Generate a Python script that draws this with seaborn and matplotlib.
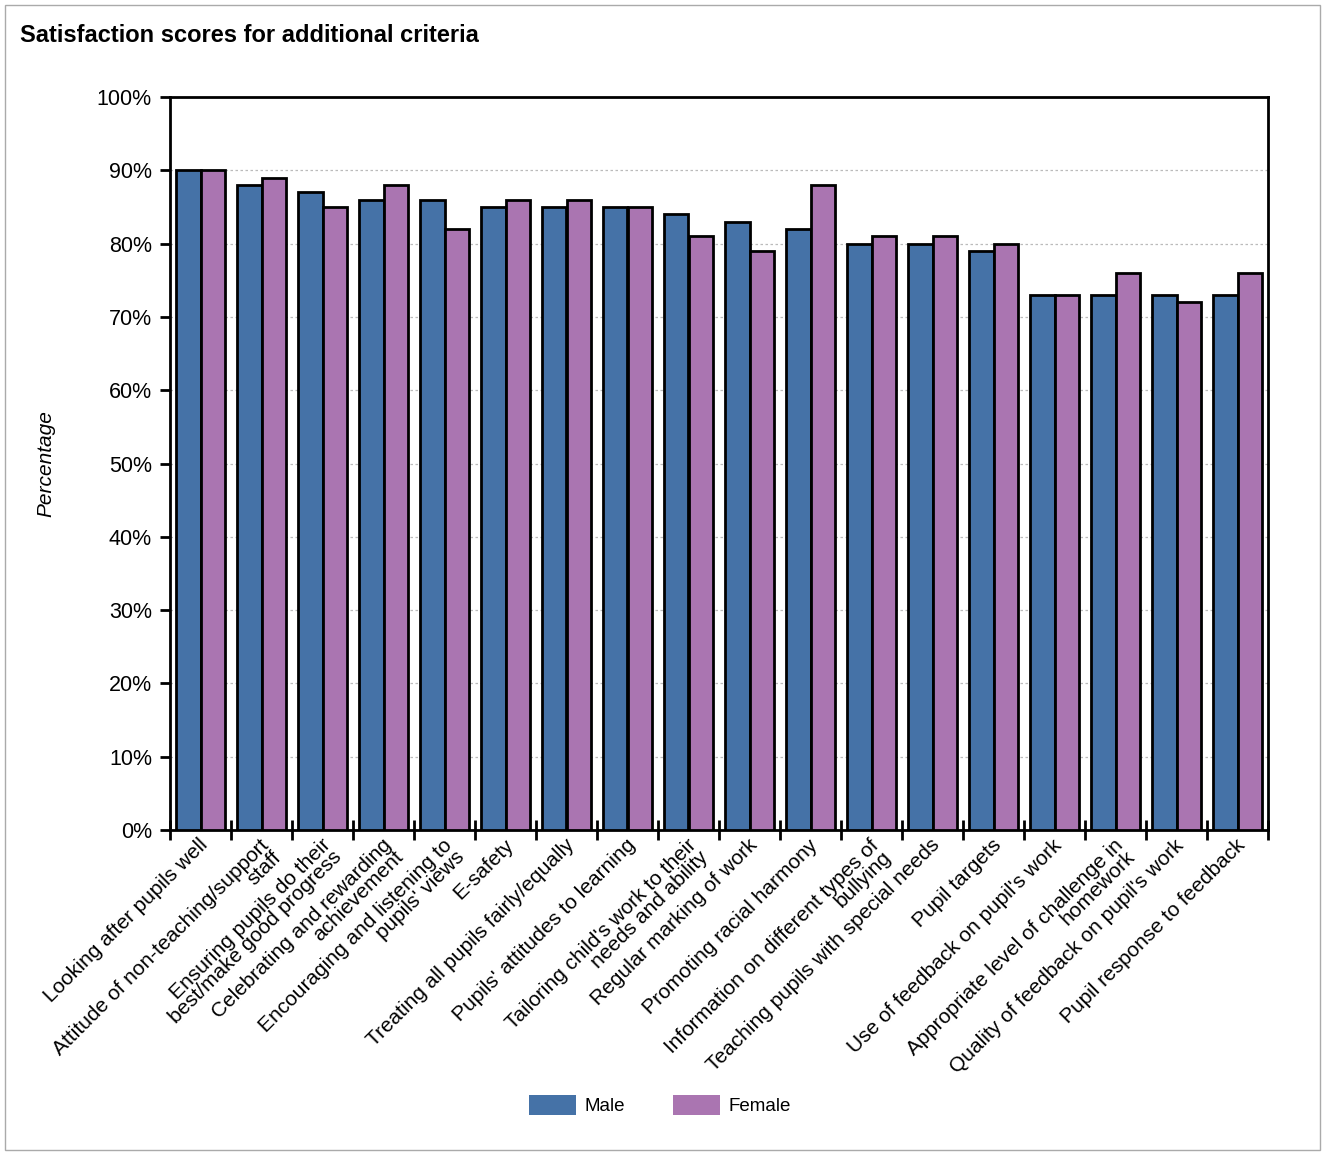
import numpy as np
import pandas as pd
import matplotlib
matplotlib.use("Agg")
import matplotlib.pyplot as plt
import matplotlib.transforms as mtrans
import seaborn as sns
from matplotlib.patches import Rectangle, Patch

categories = [
    "Looking after pupils well",
    "Attitude of non-teaching/support\nstaff",
    "Ensuring pupils do their\nbest/make good progress",
    "Celebrating and rewarding\nachievement",
    "Encouraging and listening to\npupils' views",
    "E-safety",
    "Treating all pupils fairly/equally",
    "Pupils' attitudes to learning",
    "Tailoring child's work to their\nneeds and ability",
    "Regular marking of work",
    "Promoting racial harmony",
    "Information on different types of\nbullying",
    "Teaching pupils with special needs",
    "Pupil targets",
    "Use of feedback on pupil's work",
    "Appropriate level of challenge in\nhomework",
    "Quality of feedback on pupil's work",
    "Pupil response to feedback",
]
male = [90, 88, 87, 86, 86, 85, 85, 85, 84, 83, 82, 80, 80, 79, 73, 73, 73, 73]
female = [90, 89, 85, 88, 82, 86, 86, 85, 81, 79, 88, 81, 81, 80, 73, 76, 72, 76]
series = ["Male", "Female"]
colors = ["#4572A7", "#AA75B1"]
yticks = [0, 10, 20, 30, 40, 50, 60, 70, 80, 90, 100]

df = pd.DataFrame({
    "Category": categories * 2,
    "Value": male + female,
    "Gender": ["Male"] * len(categories) + ["Female"] * len(categories),
})

sns.set_theme(style="white")
plt.rcParams["font.family"] = ["Liberation Sans", "DejaVu Sans"]
for k in ["text.color", "axes.labelcolor", "xtick.color", "ytick.color"]:
    plt.rcParams[k] = "black"

fig = plt.figure(figsize=(13.25, 11.53), dpi=100)
ax = fig.add_axes([170 / 1325, 1 - 830 / 1153, (1268 - 170) / 1325, (830 - 97) / 1153])

sns.barplot(data=df, x="Category", y="Value", hue="Gender", order=categories,
            hue_order=series, palette=colors, saturation=1, width=0.8,
            edgecolor="black", linewidth=2, ax=ax, legend=False, zorder=3)

n = len(categories)
ax.set_xlim(-0.5, n - 0.5)
ax.set_ylim(0, 100)
ax.set_yticks(yticks)
ax.set_yticklabels([f"{v}%" for v in yticks], fontsize=15.5)
ax.yaxis.grid(True, color="#bbbbbb", linestyle=(0, (2, 2)), linewidth=0.9, zorder=0)
ax.xaxis.grid(False)
ax.set_axisbelow(True)

ax.set_xticks(np.arange(-0.5, n, 1.0))
ax.set_xticklabels([])
ax.set_xticks(np.arange(n), minor=True)
ax.set_xticklabels(categories, minor=True, rotation=45, ha="right",
                   rotation_mode="anchor", fontsize=15, multialignment="right",
                   linespacing=0.85)
ax.tick_params(axis="x", which="major", direction="inout", length=14, width=2, bottom=True)
ax.tick_params(axis="x", which="minor", length=0, pad=4)
ax.tick_params(axis="y", which="major", direction="out", length=7, width=2, left=True, pad=6)

offset = mtrans.ScaledTranslation(-2 / 100, 0, fig.dpi_scale_trans)
for lbl in ax.get_xticklabels(minor=True):
    lbl.set_transform(lbl.get_transform() + offset)

for s in ax.spines.values():
    s.set_visible(True)
    s.set_color("black")
    s.set_linewidth(2)

ax.set_xlabel("")
ax.set_ylabel("Percentage", fontsize=15, fontstyle="italic", labelpad=30)

fig.text(20 / 1325, 1 - 35 / 1153, "Satisfaction scores for additional criteria",
         fontsize=17, fontweight="bold", va="center", ha="left")

handles = [Patch(facecolor=c, edgecolor="none", label=l) for c, l in zip(colors, series)]
fig.legend(handles=handles, loc="center", bbox_to_anchor=(0.498, 1 - 1105 / 1153), ncol=2,
           frameon=False, fontsize=13.5, handlelength=2.5, handleheight=1.3,
           handletextpad=0.45, columnspacing=2.6)

fig.patches.append(Rectangle((5 / 1325, 3 / 1153), 1315 / 1325, 1145 / 1153,
                             transform=fig.transFigure, fill=False,
                             edgecolor="#aaaaaa", linewidth=1))

fig.savefig("out.png", dpi=100)
